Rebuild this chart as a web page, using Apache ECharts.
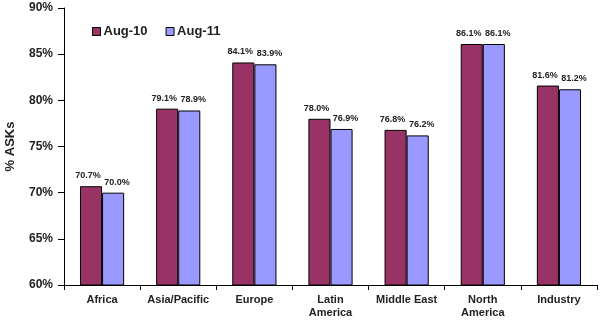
<!DOCTYPE html>
<html>
<head>
<meta charset="utf-8">
<script src="https://cdn.jsdelivr.net/npm/echarts@6/dist/echarts.min.js"></script>
<style>
  html, body { margin: 0; padding: 0; background: #fff; }
  #chart { width: 600px; height: 323px; }
</style>
</head>
<body>
<div id="chart"></div>
<script>
// Regions and load factor (% of ASKs) for August of each year
const regions = ['Africa', 'Asia/Pacific', 'Europe', 'Latin\nAmerica', 'Middle East', 'North\nAmerica', 'Industry'];
const aug10 = [70.7, 79.1, 84.1, 78.0, 76.8, 86.1, 81.6];
const aug11 = [70.0, 78.9, 83.9, 76.9, 76.2, 86.1, 81.2];
const seriesNames = ['Aug-10', 'Aug-11'];
const yTicks = [60, 65, 70, 75, 80, 85, 90];

const font = '"Liberation Sans", Arial, sans-serif';

function valueLabel(dx) {
  return {
    show: true,
    position: 'top',
    distance: 6,
    offset: [dx, 0],
    fontFamily: font,
    fontWeight: 'bold',
    fontSize: 9,
    color: '#222',
    formatter: p => p.value.toFixed(1) + '%'
  };
}

const chart = echarts.init(document.getElementById('chart'));
chart.setOption({
  animation: false,
  backgroundColor: '#fff',
  textStyle: { fontFamily: font },
  grid: { left: 64, right: 3, top: 8, bottom: 38, containLabel: false, outerBoundsMode: 'none' },
  legend: {
    data: seriesNames,
    left: 92,
    top: 25,
    padding: 0,
    itemWidth: 8,
    itemHeight: 8,
    itemGap: 18,
    icon: 'rect',
    itemStyle: { borderColor: '#000', borderWidth: 1 },
    textStyle: { fontFamily: font, fontWeight: 'bold', fontSize: 13, color: '#222', padding: [0, 0, 0, -2] }
  },
  xAxis: {
    type: 'category',
    data: regions,
    axisLine: { lineStyle: { color: '#000', width: 1 } },
    axisTick: { show: true, length: 5, lineStyle: { color: '#000' } },
    axisLabel: {
      interval: 0,
      margin: 8,
      fontFamily: font,
      fontWeight: 'bold',
      fontSize: 11,
      color: '#222',
      lineHeight: 13
    }
  },
  yAxis: {
    type: 'value',
    min: yTicks[0],
    max: yTicks[yTicks.length - 1],
    interval: 5,
    name: '% ASKs',
    nameLocation: 'middle',
    nameGap: 47,
    nameRotate: 90,
    nameTextStyle: { fontFamily: font, fontWeight: 'bold', fontSize: 13, color: '#222' },
    axisLine: { show: true, lineStyle: { color: '#000', width: 1 } },
    axisTick: { show: true, length: 6, lineStyle: { color: '#000' } },
    splitLine: { show: false },
    axisLabel: {
      margin: 11,
      fontFamily: font,
      fontWeight: 'bold',
      fontSize: 12,
      color: '#222',
      formatter: v => v + '%'
    }
  },
  series: [
    {
      name: seriesNames[0],
      type: 'bar',
      data: aug10,
      barGap: '0%',
      barCategoryGap: '42%',
      itemStyle: { color: '#993366', borderColor: '#000', borderWidth: 1 },
      label: valueLabel(-3)
    },
    {
      name: seriesNames[1],
      type: 'bar',
      data: aug11,
      itemStyle: { color: '#9999FF', borderColor: '#000', borderWidth: 1 },
      label: valueLabel(4)
    }
  ]
});
</script>
</body>
</html>
